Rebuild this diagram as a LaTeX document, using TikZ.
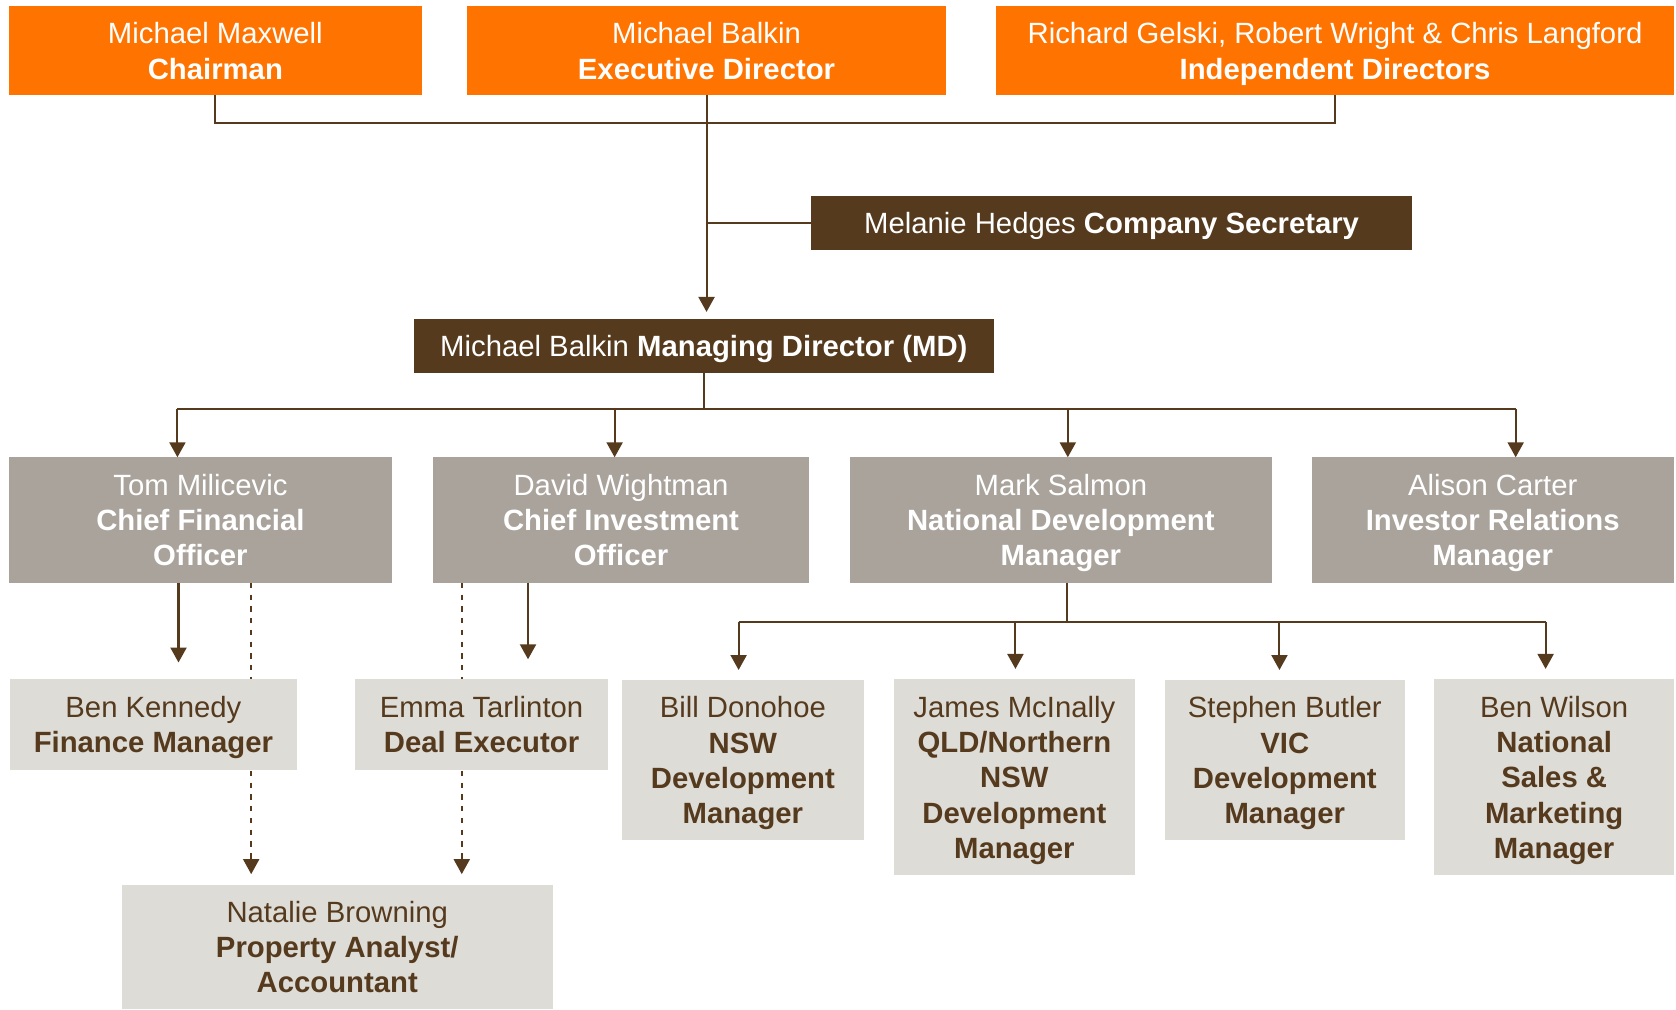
\documentclass[tikz,border=0pt]{standalone}
\usepackage{fontspec}
\setmainfont{Liberation Sans}
\usepackage{tikz}
\usetikzlibrary{arrows.meta,positioning,calc,backgrounds}
\definecolor{orange}{RGB}{255,115,0}
\definecolor{darkbrown}{RGB}{85,58,30}
\definecolor{midgrey}{RGB}{169,163,156}
\definecolor{lightgrey}{RGB}{222,220,215}
\newcommand{\bs}{\rule[-6.5pt]{0pt}{33pt}}% same top and bottom for every box

\begin{document}
\begin{tikzpicture}[x=1pt,y=-1pt,% one unit = one pixel of the chart, y runs down
					every node/.style={
						align=center,		% so that "\\" breaks the line
						inner sep=0pt,
						font=\fontsize{27.4pt}{33pt}\selectfont
						},
					boardbox/.style={rectangle,fill=orange,text=white,minimum height=83pt},
					secbox/.style={rectangle,fill=darkbrown,text=white,minimum height=51pt},
					headbox/.style={rectangle,fill=midgrey,text=white,minimum height=117pt},
					staffbox/.style={rectangle,fill=lightgrey,text=darkbrown},
					link/.style={draw=darkbrown,line width=1.9pt},
					arr/.style={link,-{Triangle[width=15pt,length=14pt]}},
					dotarr/.style={draw=darkbrown,line width=1.6pt,dash pattern=on 5pt off 6pt,-{Triangle[width=15pt,length=14pt]}}
					]
\useasboundingbox (0,0) rectangle (1568,944);
% board
\node[boardbox,minimum width=387pt](chair) at (201.5,47.5){\bs Michael Maxwell\\ \textbf{Chairman}\bs};
\node[boardbox,minimum width=448pt](exec) at (661,47.5){\bs Michael Balkin\\ \textbf{Executive Director}\bs};
\node[boardbox,minimum width=634pt](indep) at (1249,47.5){\bs Richard Gelski, Robert Wright \& Chris Langford\\ \textbf{Independent Directors}\bs};
\node[secbox,minimum width=562pt](sec) at (1040,208.5){\bs Melanie Hedges \textbf{Company Secretary}};
\node[secbox,minimum width=543pt](md) at (658.5,323.5){\bs Michael Balkin \textbf{Managing Director (MD)}};
% heads
\node[headbox,minimum width=359pt](cfo) at (187.5,486.5){\bs Tom Milicevic\\ \textbf{Chief Financial}\\ \textbf{Officer}\bs};
\node[headbox,minimum width=352pt](cio) at (581,486.5){\bs David Wightman\\ \textbf{Chief Investment}\\ \textbf{Officer}\bs};
\node[headbox,minimum width=395pt](ndm) at (992.5,486.5){\bs Mark Salmon\\ \textbf{National Development}\\ \textbf{Manager}\bs};
\node[headbox,minimum width=339pt](ir) at (1396.5,486.5){\bs Alison Carter\\ \textbf{Investor Relations}\\ \textbf{Manager}\bs};
% staff
\node[staffbox,minimum width=269pt,minimum height=85pt](ken) at (143.5,677.5){\bs Ben Kennedy\\ \textbf{Finance Manager}\bs};
\node[staffbox,minimum width=237pt,minimum height=85pt](emma) at (450.5,677.5){\bs Emma Tarlinton\\ \textbf{Deal Executor}\bs};
\node[staffbox,minimum width=226pt,minimum height=150pt](bill) at (695,711){\bs Bill Donohoe\\ \textbf{NSW}\\ \textbf{Development}\\ \textbf{Manager}\bs};
\node[staffbox,minimum width=226pt,minimum height=184pt](james) at (949,727){\bs James McInally\\ \textbf{QLD/Northern}\\ \textbf{NSW}\\ \textbf{Development}\\ \textbf{Manager}\bs};
\node[staffbox,minimum width=224pt,minimum height=150pt](stephen) at (1202,711){\bs Stephen Butler\\ \textbf{VIC}\\ \textbf{Development}\\ \textbf{Manager}\bs};
\node[staffbox,minimum width=224pt,minimum height=184pt](wilson) at (1454,727){\bs Ben Wilson\\ \textbf{National}\\ \textbf{Sales \&}\\ \textbf{Marketing}\\ \textbf{Manager}\bs};
\node[staffbox,minimum width=403pt,minimum height=116pt](natalie) at (315.5,886){\bs Natalie Browning\\ \textbf{Property Analyst/}\\ \textbf{Accountant}\bs};
% junction points of the lines
\coordinate (bCfo) at (166,383);
\coordinate (bCio) at (575,383);
\coordinate (bNdm) at (999,383);
\coordinate (bIr) at (1418,383);
\coordinate (tKen) at (167,0);
\coordinate (tEmma) at (494,0);
\coordinate (dCfo) at (235,0);
\coordinate (dCio) at (432,0);
\coordinate (nBus) at (998,582);
\coordinate (bBill) at (691,582);
\coordinate (bJames) at (950,582);
\coordinate (bStephen) at (1197,582);
\coordinate (bWilson) at (1446,582);
% board lines
\draw[link] (chair.south) -- ++(0,26) -| (indep.south);
\draw[link] (sec.west) -- (sec.west -| exec.south);
\path
(exec.south) edge [arr,shorten >=6pt] (exec.south |- md.north)
;
% MD to heads
\draw[link] (md.south) -- (md.south |- bCfo);
\draw[link] (bCfo) -- (bIr);
\path
(bCfo) edge [arr] (bCfo |- cfo.north)
(bCio) edge [arr] (bCio |- cio.north)
(bNdm) edge [arr] (bNdm |- ndm.north)
(bIr) edge [arr] (bIr |- ir.north)
;
% heads to staff
\path
(cfo.south -| tKen) edge [arr,shorten >=15pt] (ken.north -| tKen)
(cio.south -| tEmma) edge [arr,shorten >=18pt] (emma.north -| tEmma)
;
\draw[link] (ndm.south -| nBus) -- (nBus);
\draw[link] (bBill) -- (bWilson);
\path
(bBill) edge [arr,shorten >=9pt] (bBill |- bill.north)
(bJames) edge [arr,shorten >=9pt] (bJames |- james.north)
(bStephen) edge [arr,shorten >=9pt] (bStephen |- stephen.north)
(bWilson) edge [arr,shorten >=9pt] (bWilson |- wilson.north)
;
% dotted reporting lines run behind the staff boxes
\begin{pgfonlayer}{background}
\path
(cfo.south -| dCfo) edge [dotarr,shorten >=10pt] (natalie.north -| dCfo)
(cio.south -| dCio) edge [dotarr,shorten >=10pt] (natalie.north -| dCio)
;
\end{pgfonlayer}
\end{tikzpicture}
\end{document}
